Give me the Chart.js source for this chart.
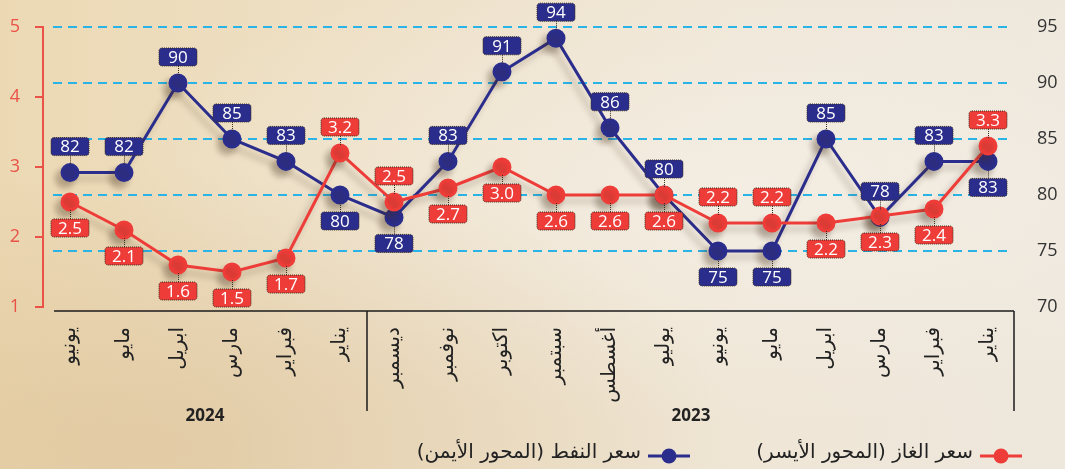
<!DOCTYPE html>
<html lang="ar">
<head>
<meta charset="utf-8">
<script src="https://cdn.jsdelivr.net/npm/chart.js@4.4.1/dist/chart.umd.min.js"></script>
<style>
  html, body { margin: 0; padding: 0; }
  body {
    width: 1065px; height: 469px; overflow: hidden;
    background:
      radial-gradient(ellipse at 15% 95%, rgba(205, 170, 120, 0.35) 0%, rgba(205, 170, 120, 0) 45%),
      radial-gradient(ellipse at 70% 40%, rgba(245, 240, 232, 0.7) 0%, rgba(245, 240, 232, 0) 60%),
      linear-gradient(90deg, #ecd9b4 0%, #eee0c6 35%, #efe6d6 70%, #eee7dc 100%);
  }
  #wrap { position: relative; width: 1065px; height: 469px; }
</style>
</head>
<body>
<div id="wrap"><canvas id="chart"></canvas></div>
<script>
const months = ['يونيو', 'مايو', 'ابريل', 'مارس', 'فبراير', 'يناير', 'ديسمبر', 'نوفمبر', 'اكتوبر', 'سبتمبر', 'أغسطس', 'يوليو', 'يونيو', 'مايو', 'ابريل', 'مارس', 'فبراير', 'يناير'];
const oilPrices = [82, 82, 90, 85, 83, 80, 78, 83, 91, 94, 86, 80, 75, 75, 85, 78, 83, 83];
const gasPrices = [2.5, 2.1, 1.6, 1.5, 1.7, 3.2, 2.5, 2.7, 3.0, 2.6, 2.6, 2.6, 2.2, 2.2, 2.2, 2.3, 2.4, 3.3];
const yearLabels = ['2024', '2023'];
const yearFirst = [0, 6];
const yearLast = [5, 17];
const gasTicks = [1, 2, 3, 4, 5];
const oilTicks = [70, 75, 80, 85, 90, 95];

// -1 = value box above the point, 1 = below
const oilSide = [-1, -1, -1, -1, -1, 1, 1, -1, -1, -1, -1, -1, 1, 1, -1, -1, -1, 1];
const gasSide = [1, 1, 1, 1, 1, -1, -1, 1, 1, 1, 1, 1, -1, -1, 1, 1, 1, -1];

const OIL = '#2b2d8c';
const GAS = '#ee3d39';
const numFont = '"Open Sans", "DejaVu Sans", sans-serif';
const arFont = '"DejaVu Sans", sans-serif';

const dropShadow = {
    id: 'dropShadow',
    beforeDatasetDraw(chart) {
        const ctx = chart.ctx;
        ctx.save();
        ctx.shadowColor = 'rgba(70, 50, 30, 0.3)';
        ctx.shadowBlur = 6;
        ctx.shadowOffsetX = -5;
        ctx.shadowOffsetY = 6;
    },
    afterDatasetDraw(chart) {
        chart.ctx.restore();
    },
};

const dashedGrid = {
    id: 'dashedGrid',
    beforeDatasetsDraw(chart) {
        const ctx = chart.ctx;
        const yR = chart.scales.yR;
        const area = chart.chartArea;
        ctx.save();
        ctx.strokeStyle = '#2ab3e6';
        ctx.lineWidth = 2;
        ctx.setLineDash([9, 6]);
        yR.ticks.forEach(t => {
            if (t.value === yR.min) return;
            const y = Math.round(yR.getPixelForValue(t.value));
            ctx.beginPath();
            ctx.moveTo(area.left + 10, y);
            ctx.lineTo(area.right - 5, y);
            ctx.stroke();
        });
        ctx.restore();
    },
};

const valueBoxes = {
    id: 'valueBoxes',
    afterDatasetsDraw(chart) {
        const ctx = chart.ctx;
        chart.data.datasets.forEach((ds, i) => {
            const meta = chart.getDatasetMeta(i);
            meta.data.forEach((pt, j) => {
                const side = ds.sides[j];
                const cy = pt.y + side * 26;
                ctx.save();
                ctx.strokeStyle = '#3a3020';
                ctx.lineWidth = 1;
                ctx.setLineDash([1, 1]);
                ctx.beginPath();
                ctx.moveTo(pt.x + 0.5, pt.y + side * 8);
                ctx.lineTo(pt.x + 0.5, cy - side * 9);
                ctx.stroke();
                ctx.beginPath();
                ctx.roundRect(pt.x - 19, cy - 9, 38, 18, 3);
                ctx.fillStyle = ds.borderColor;
                ctx.fill();
                ctx.stroke();
                ctx.setLineDash([]);
                ctx.fillStyle = '#ffffff';
                ctx.font = '17px ' + numFont;
                ctx.textAlign = 'center';
                ctx.textBaseline = 'middle';
                const txt = ds.yAxisID === 'yR' ? String(ds.data[j]) : ds.data[j].toFixed(1);
                ctx.fillText(txt, pt.x, cy + 1);
                ctx.restore();
            });
        });
    },
};

const axisExtras = {
    id: 'axisExtras',
    afterDraw(chart) {
        const ctx = chart.ctx;
        const x = chart.scales.x;
        const area = chart.chartArea;
        const step = x.getPixelForValue(1) - x.getPixelForValue(0);
        const lineY = area.bottom + 4;
        const rightX = x.getPixelForValue(months.length - 1) + step / 2 - 1;
        const splitX = (x.getPixelForValue(yearLast[0]) + x.getPixelForValue(yearFirst[1])) / 2;

        ctx.save();
        ctx.strokeStyle = '#1c1c1c';
        ctx.lineWidth = 1.5;
        ctx.beginPath();
        ctx.moveTo(area.left + 11, lineY);
        ctx.lineTo(rightX, lineY);
        ctx.moveTo(splitX, lineY);
        ctx.lineTo(splitX, lineY + 100);
        ctx.moveTo(rightX, lineY);
        ctx.lineTo(rightX, lineY + 100);
        ctx.stroke();

        // years
        ctx.fillStyle = '#222';
        ctx.font = 'bold 17px ' + numFont;
        ctx.textAlign = 'center';
        ctx.textBaseline = 'middle';
        yearLabels.forEach((y, i) => {
            const cx = (x.getPixelForValue(yearFirst[i]) + x.getPixelForValue(yearLast[i])) / 2;
            ctx.fillText(y, cx, 416);
        });

        // legend
        const items = [
            { text: 'سعر الغاز (المحور الأيسر)', color: GAS, mx: 1001 },
            { text: 'سعر النفط (المحور الأيمن)', color: OIL, mx: 669 },
        ];
        const ly = 456;
        items.forEach(it => {
            ctx.strokeStyle = it.color;
            ctx.fillStyle = it.color;
            ctx.lineWidth = 3;
            ctx.beginPath();
            ctx.moveTo(it.mx - 21, ly);
            ctx.lineTo(it.mx + 21, ly);
            ctx.stroke();
            ctx.beginPath();
            ctx.arc(it.mx, ly, 7.5, 0, Math.PI * 2);
            ctx.fill();
            ctx.fillStyle = '#222';
            ctx.font = '20px ' + arFont;
            ctx.direction = 'rtl';
            ctx.textAlign = 'right';
            ctx.fillText(it.text, it.mx - 28, ly - 3);
        });
        ctx.restore();
    },
};

new Chart(document.getElementById('chart').getContext('2d'), {
    type: 'line',
    data: {
        labels: months,
        datasets: [
            {
                label: 'سعر الغاز (المحور الأيسر)',
                data: gasPrices,
                sides: gasSide,
                yAxisID: 'y',
                borderColor: GAS,
                backgroundColor: GAS,
                pointBackgroundColor: GAS,
                pointBorderColor: GAS,
                borderWidth: 3,
                pointRadius: 8,
                pointHoverRadius: 8,
                tension: 0,
            },
            {
                label: 'سعر النفط (المحور الأيمن)',
                data: oilPrices,
                sides: oilSide,
                yAxisID: 'yR',
                borderColor: OIL,
                backgroundColor: OIL,
                pointBackgroundColor: OIL,
                pointBorderColor: OIL,
                borderWidth: 3,
                pointRadius: 8,
                pointHoverRadius: 8,
                tension: 0,
            },
        ],
    },
    options: {
        responsive: true,
        maintainAspectRatio: false,
        animation: false,
        layout: {
            padding: { top: 27, left: 0, right: 0, bottom: 0 },
        },
        plugins: {
            legend: { display: false },
            tooltip: { enabled: false },
        },
        scales: {
            x: {
                type: 'category',
                offset: true,
                grid: { display: false },
                border: { display: false },
                ticks: {
                    color: '#222',
                    font: { family: arFont, size: 20 },
                    minRotation: 90,
                    maxRotation: 90,
                    autoSkip: false,
                    padding: 12,
                },
                afterFit: scale => { scale.height = 162; },
            },
            y: {
                position: 'left',
                min: gasTicks[0],
                max: gasTicks[gasTicks.length - 1],
                afterBuildTicks: scale => { scale.ticks = gasTicks.map(v => ({ value: v })); },
                ticks: {
                    color: '#ea5248',
                    font: { family: numFont, size: 18 },
                    padding: 15,
                },
                grid: {
                    drawOnChartArea: false,
                    color: '#ea5248',
                    tickLength: 8,
                    lineWidth: 2,
                },
                border: { color: '#ea5248', width: 2 },
                afterFit: scale => { scale.width = 43; },
            },
            yR: {
                position: 'right',
                min: oilTicks[0],
                max: oilTicks[oilTicks.length - 1],
                afterBuildTicks: scale => { scale.ticks = oilTicks.map(v => ({ value: v })); },
                ticks: {
                    color: '#333',
                    font: { family: numFont, size: 18 },
                    padding: 3,
                },
                // invisible tick marks only push the labels away from the plot
                grid: {
                    drawOnChartArea: false,
                    tickLength: 19,
                    color: 'rgba(0, 0, 0, 0)',
                },
                border: { display: false },
                afterFit: scale => { scale.width = 50; },
            },
        },
    },
    plugins: [dashedGrid, dropShadow, valueBoxes, axisExtras],
});
</script>
</body>
</html>
